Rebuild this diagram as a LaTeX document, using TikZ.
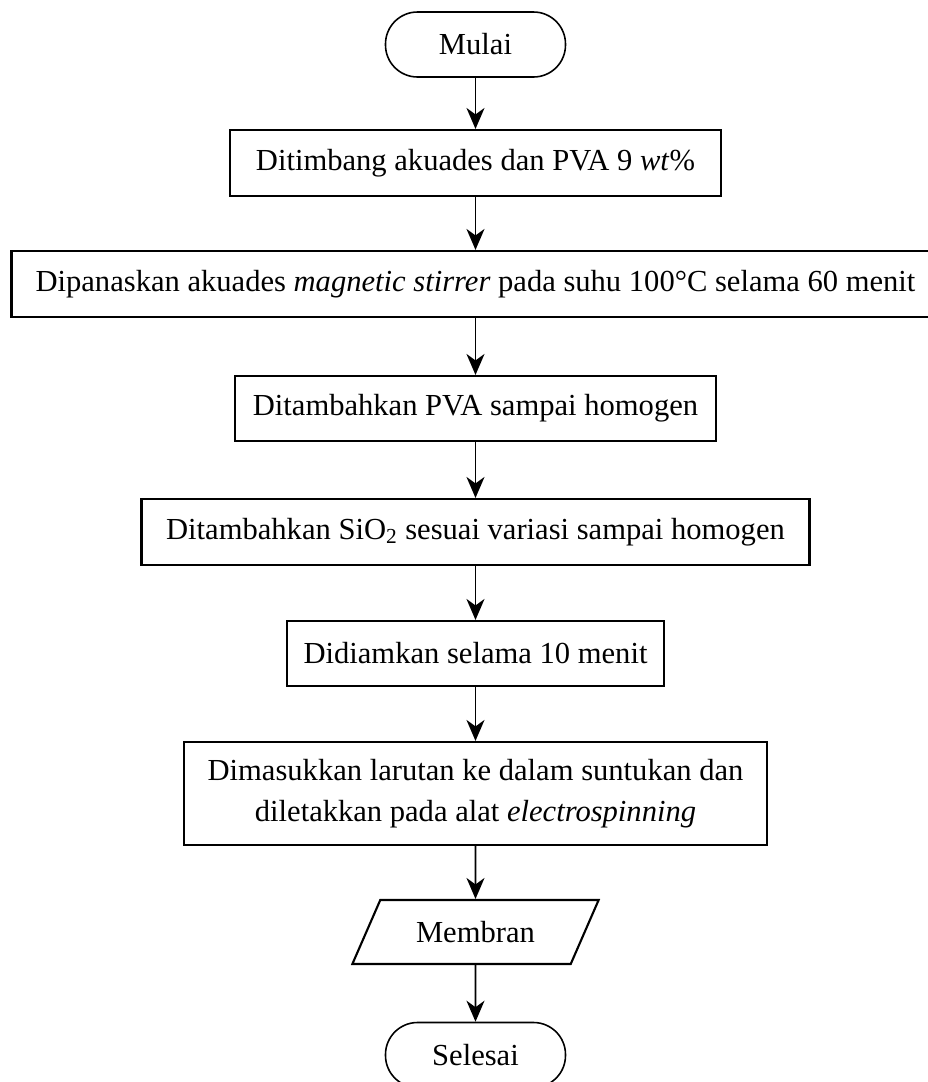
\documentclass[tikz,border=0pt]{standalone}
\usepackage{fontspec}
\setmainfont{Liberation Serif}
\usepackage{tikz}
\usetikzlibrary{arrows.meta,shapes.geometric}

\begin{document}
\begin{tikzpicture}[>={Stealth[length=4.2mm,width=3.6mm,inset=1.3mm]}, font=\fontsize{17.4}{23}\selectfont]
\tikzstyle{terminal}=[draw, line width=0.9pt, rounded corners=0.64cm, minimum width=3.6cm, minimum height=1.3cm, inner sep=0pt]
\tikzstyle{process}=[draw, line width=1.2pt, align=center, minimum height=1.3cm, inner sep=0pt]
\tikzstyle{io}=[draw, line width=1.2pt, trapezium, trapezium left angle=51, trapezium right angle=129, trapezium stretches=true, minimum width=4.94cm, minimum height=1.28cm, inner sep=0pt]
\tikzstyle{flow}=[->, line width=1pt]

\useasboundingbox (0,0) rectangle (18.56,-21.64);
\clip (0,0) rectangle (18.56,-21.64);

\node[terminal] (mulai) at (9.51,-0.89) {Mulai};
\node[process, minimum width=9.82cm, minimum height=1.32cm] (timbang) at (9.51,-3.26) {Ditimbang akuades dan PVA 9 \textit{wt}\%};
\node[process, minimum width=18.56cm, minimum height=1.32cm] (panas) at (9.51,-5.68) {Dipanaskan akuades \textit{magnetic stirrer} pada suhu 100°C selama 60 menit};
\node[process, minimum width=9.62cm] (pva) at (9.51,-8.17) {Ditambahkan PVA sampai homogen};
\node[process, minimum width=13.36cm, minimum height=1.32cm] (sio) at (9.51,-10.64) {Ditambahkan SiO\textsubscript{2} sesuai variasi sampai homogen};
\node[process, minimum width=7.54cm] (diam) at (9.51,-13.07) {Didiamkan selama 10 menit};
\node[process, minimum width=11.66cm, minimum height=2.06cm] (suntik) at (9.51,-15.87) {Dimasukkan larutan ke dalam suntukan dan\\diletakkan pada alat \textit{electrospinning}};
\node[io] (membran) at (9.51,-18.64) {Membran};
\node[terminal] (selesai) at (9.51,-21.1) {Selesai};

\draw[flow] (mulai) -- (timbang);
\draw[flow] (timbang) -- (panas);
\draw[flow] (panas) -- (pva);
\draw[flow] (pva) -- (sio);
\draw[flow] (sio) -- (diam);
\draw[flow] (diam) -- (suntik);
\draw[flow] (suntik) -- (membran);
\draw[flow] (membran) -- (selesai);
\end{tikzpicture}
\end{document}
